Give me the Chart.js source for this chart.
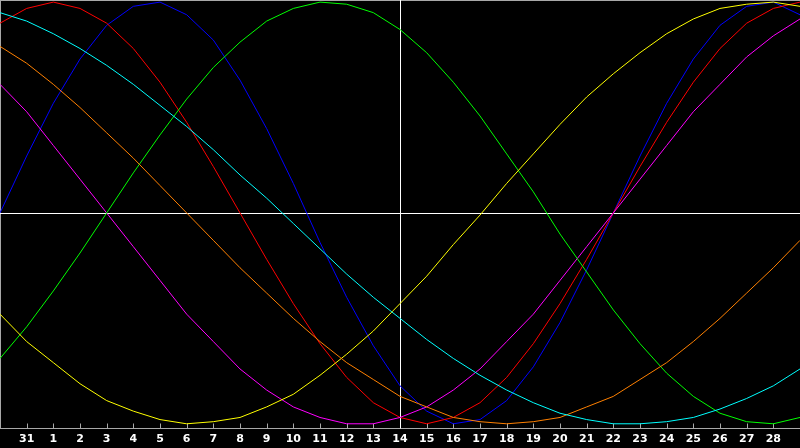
<!DOCTYPE html>
<html>
<head>
<meta charset="utf-8">
<title>Biorhythm</title>
<script src="https://cdn.jsdelivr.net/npm/chart.js@4/dist/chart.umd.min.js"></script>
<style>
  html, body { margin: 0; padding: 0; background: #000; }
  canvas { display: block; }
</style>
</head>
<body>
<canvas id="bioChart" width="800" height="448"></canvas>
<script>
// ===== Data =====
const days = ['30', '31', '1', '2', '3', '4', '5', '6', '7', '8', '9', '10', '11', '12', '13', '14',
  '15', '16', '17', '18', '19', '20', '21', '22', '23', '24', '25', '26', '27', '28', '1'];
const todayIndex = 15; // day 14

const physical = [0, 0.27, 0.52, 0.73, 0.89, 0.98, 1.0, 0.94, 0.82, 0.63, 0.40, 0.14, -0.14, -0.40, -0.63, -0.82,
  -0.94, -1.0, -0.98, -0.89, -0.73, -0.52, -0.27, 0, 0.27, 0.52, 0.73, 0.89, 0.98, 1.0, 0.94];
const emotional = [0.90, 0.97, 1.0, 0.97, 0.90, 0.78, 0.62, 0.43, 0.22, 0, -0.22, -0.43, -0.62, -0.78, -0.90, -0.97,
  -1.0, -0.97, -0.90, -0.78, -0.62, -0.43, -0.22, 0, 0.22, 0.43, 0.62, 0.78, 0.90, 0.97, 1.0];
const intellectual = [-0.69, -0.54, -0.37, -0.19, 0, 0.19, 0.37, 0.54, 0.69, 0.81, 0.91, 0.97, 1.0, 0.99, 0.95, 0.87,
  0.76, 0.62, 0.46, 0.28, 0.10, -0.10, -0.28, -0.46, -0.62, -0.76, -0.87, -0.95, -0.99, -1.0, -0.97];
const intuitive = [0.61, 0.48, 0.32, 0.16, 0, -0.16, -0.32, -0.48, -0.61, -0.74, -0.84, -0.92, -0.97, -1.0, -1.0, -0.97,
  -0.92, -0.84, -0.74, -0.61, -0.48, -0.32, -0.16, 0, 0.16, 0.32, 0.48, 0.61, 0.74, 0.84, 0.92];
const aesthetic = [-0.48, -0.61, -0.71, -0.81, -0.89, -0.94, -0.98, -1.0, -0.99, -0.97, -0.92, -0.86, -0.77, -0.67, -0.56, -0.43,
  -0.30, -0.15, -0.01, 0.14, 0.28, 0.42, 0.55, 0.66, 0.76, 0.85, 0.92, 0.97, 0.99, 1.0, 0.98];
const awareness = [0.79, 0.71, 0.61, 0.50, 0.38, 0.26, 0.13, 0, -0.13, -0.26, -0.38, -0.50, -0.61, -0.71, -0.79, -0.87,
  -0.92, -0.97, -0.99, -1.0, -0.99, -0.97, -0.92, -0.87, -0.79, -0.71, -0.61, -0.50, -0.38, -0.26, -0.13];
const spiritual = [0.95, 0.91, 0.85, 0.78, 0.70, 0.61, 0.51, 0.41, 0.30, 0.18, 0.07, -0.05, -0.17, -0.29, -0.40, -0.50,
  -0.60, -0.69, -0.77, -0.84, -0.90, -0.95, -0.98, -1.0, -1.0, -0.99, -0.97, -0.93, -0.88, -0.82, -0.74];

// ===== Styles =====
const AXIS_GRAY = '#a8a8a8';

function series(label, data, color) {
  return {
    label,
    data,
    borderColor: color,
    borderWidth: 1,
    pointRadius: 0,
    tension: 0,
    fill: false
  };
}

// ===== Frame plugin (border, crosshair, inner ticks) =====
const framePlugin = {
  id: 'frame',
  beforeDraw(chart) {
    const { ctx, width, height } = chart;
    ctx.save();
    ctx.fillStyle = '#000';
    ctx.fillRect(0, 0, width, height);
    ctx.restore();
  },
  beforeDatasetsDraw(chart) {
    const { ctx, chartArea: a, scales: { x, y } } = chart;
    const bottom = Math.round(a.bottom) + 0.5;
    ctx.save();
    ctx.lineWidth = 1;

    // top and left border, axis line
    ctx.strokeStyle = AXIS_GRAY;
    ctx.beginPath();
    ctx.moveTo(0, 0.5);
    ctx.lineTo(a.right, 0.5);
    ctx.moveTo(0.5, 0);
    ctx.lineTo(0.5, bottom);
    ctx.moveTo(0, bottom);
    ctx.lineTo(a.right, bottom);
    // inner ticks
    for (let i = 1; i < days.length - 1; i++) {
      const px = Math.round(x.getPixelForValue(i)) + 0.5;
      ctx.moveTo(px, bottom);
      ctx.lineTo(px, bottom - 5);
    }
    ctx.stroke();

    // today + zero line
    ctx.strokeStyle = '#fff';
    const tx = Math.round(x.getPixelForValue(todayIndex)) + 0.5;
    const zy = Math.round(y.getPixelForValue(0)) + 0.5;
    ctx.beginPath();
    ctx.moveTo(tx, a.top);
    ctx.lineTo(tx, bottom);
    ctx.moveTo(a.left, zy);
    ctx.lineTo(a.right, zy);
    ctx.stroke();
    ctx.restore();
  }
};

// ===== Chart =====
const ctx = document.getElementById('bioChart').getContext('2d');
new Chart(ctx, {
  type: 'line',
  data: {
    labels: days,
    datasets: [
      series('Spiritual', spiritual, '#00ffff'),
      series('Awareness', awareness, '#ff8000'),
      series('Aesthetic', aesthetic, '#ffff00'),
      series('Intellectual', intellectual, '#00ff00'),
      series('Intuitive', intuitive, '#ff00ff'),
      series('Emotional', emotional, '#ff0000'),
      series('Physical', physical, '#0000ff')
    ]
  },
  options: {
    responsive: false,
    devicePixelRatio: 1,
    animation: false,
    layout: { padding: 0 },
    plugins: {
      legend: { display: false },
      tooltip: { enabled: false }
    },
    scales: {
      x: {
        offset: false,
        grid: { display: false, drawTicks: false },
        border: { display: false },
        ticks: {
          autoSkip: false,
          maxRotation: 0,
          padding: 4.4,
          color: '#fff',
          font: { family: 'DejaVu Sans', size: 11, weight: 'bold' },
          callback: (v, i) => (i === 0 || i === days.length - 1) ? '' : days[i]
        },
        afterFit(scale) {
          // no side padding, fixed label strip under the plot
          scale.paddingLeft = 0;
          scale.paddingRight = 0;
          scale.height = 20;
        }
      },
      y: {
        display: false,
        min: -1.02,
        max: 1.01
      }
    }
  },
  plugins: [framePlugin]
});
</script>
</body>
</html>
